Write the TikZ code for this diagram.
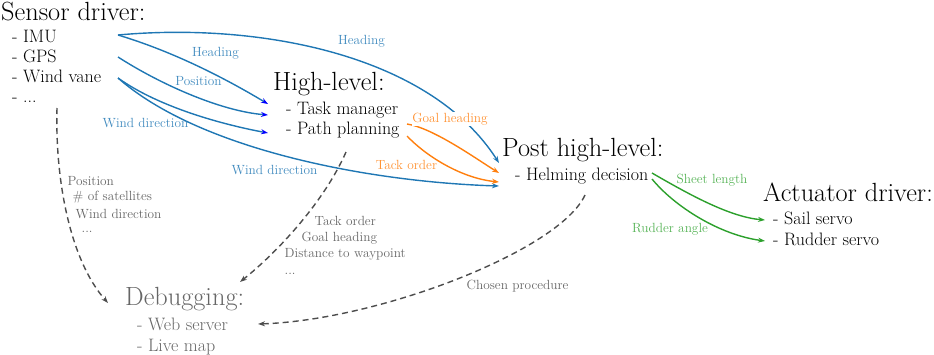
\documentclass[tikz,border=0pt]{standalone}
\usepackage{fontspec}
\usetikzlibrary{arrows.meta}
\definecolor{cblue}{HTML}{1F77B4}
\definecolor{corange}{HTML}{FF7F0E}
\definecolor{cgreen}{HTML}{2CA02C}
\definecolor{dgray}{HTML}{4D4D4D}
\definecolor{tgray}{HTML}{666666}
\tikzset{
  titlebox/.style={anchor=base west,inner sep=0pt,font=\fontsize{26.3}{30}\selectfont},
  itembox/.style={anchor=base west,inner sep=0pt,font=\fontsize{18}{21}\selectfont},
  lbl/.style={inner sep=0.5pt,font=\fontsize{13.3}{16}\selectfont},
  clbl/.style={lbl},
  glbl/.style={lbl,anchor=west,text=tgray},
  tip/.style={-{Stealth[length=7pt,width=5pt]}},
  bluearr/.style={tip,draw=cblue,line width=1.4pt},
  bluearrB/.style={-{Stealth[length=7pt,width=5pt,fill=blue,color=blue]},draw=cblue,line width=1.4pt},
  orangearr/.style={tip,draw=corange,line width=1.4pt},
  greenarr/.style={tip,draw=cgreen,line width=1.4pt},
  dasharr/.style={tip,draw=dgray,line width=1.4pt,dash pattern=on 6pt off 4pt},
}
\begin{document}
\begin{tikzpicture}[x=1pt,y=-1pt]
\useasboundingbox (0,0) rectangle (934,354);
% Sensor driver
\node[titlebox] (sensor) at (1,20.5) {Sensor driver:};
\node[itembox] (imu) at (12,42) {- IMU};
\node[itembox] (gps) at (12,62) {- GPS};
\node[itembox] (wvane) at (12,82) {- Wind vane};
\node[itembox] (sdots) at (12,102) {- ...};
% High-level
\node[titlebox] (high) at (273,90) {High-level:};
\node[itembox] (task) at (286,114) {- Task manager};
\node[itembox] (path) at (286,134) {- Path planning};
% Post high-level
\node[titlebox] (post) at (502,156) {Post high-level:};
\node[itembox] (helm) at (515,180) {- Helming decision};
% Actuator driver
\node[titlebox] (act) at (763,201) {Actuator driver:};
\node[itembox] (sail) at (773,224) {- Sail servo};
\node[itembox] (rudder) at (773,245) {- Rudder servo};
% Debugging
\node[titlebox,text=tgray] (debug) at (125,305) {Debugging:};
\node[itembox,text=tgray] (web) at (137,330) {- Web server};
\node[itembox,text=tgray] (live) at (137,351) {- Live map};

% ports
\coordinate (imuO) at (118,35);
\coordinate (gpsO) at (118,57);
\coordinate (windO) at (118,78);
\coordinate (sdotsO) at (57,108);
\coordinate (taskI) at (268,104);
\coordinate (taskI2) at (268,115);
\coordinate (pathI) at (268,133);
\coordinate (pathO1) at (407,124);
\coordinate (pathO2) at (407,136);
\coordinate (pathD) at (346,152);
\coordinate (postI1) at (499,163);
\coordinate (postI2) at (499,173);
\coordinate (postI3) at (499,182);
\coordinate (postI4) at (499,186);
\coordinate (helmO1) at (652,173);
\coordinate (helmO2) at (652,179);
\coordinate (helmD) at (585,195);
\coordinate (sailI) at (765,220);
\coordinate (rudderI) at (765,241);
\coordinate (debugI1) at (108,303);
\coordinate (debugI2) at (240,282);
\coordinate (webI) at (258,324);

% blue arrows
\draw[bluearrB] (imuO) .. controls (168,50) and (218,74) .. (taskI);
\draw[bluearr] (imuO) .. controls (260,22) and (430,55) .. (postI1);
\draw[bluearrB] (gpsO) .. controls (160,84) and (220,111) .. (taskI2);
\draw[bluearrB] (windO) .. controls (160,108) and (225,125) .. (pathI);
\draw[bluearr] (windO) .. controls (200,150) and (370,182) .. (postI4);
% orange arrows
\draw[orangearr] (pathO1) .. controls (433,128) and (475,158) .. (postI2);
\draw[orangearr] (pathO2) .. controls (425,155) and (460,178) .. (postI3);
% green arrows
\draw[greenarr] (helmO1) .. controls (690,195) and (730,217) .. (sailI);
\draw[greenarr] (helmO2) .. controls (675,207) and (720,235) .. (rudderI);
% dashed arrows
\draw[dasharr] (sdotsO) .. controls (55,180) and (70,260) .. (debugI1);
\draw[dasharr] (pathD) .. controls (325,200) and (280,250) .. (debugI2);
\draw[dasharr] (helmD) .. controls (560,250) and (380,320) .. (webI);

% labels
\node[clbl,text=cblue!85!white] (l1) at (215.5,53) {Heading};
\node[clbl,text=cblue!85!white] (l2) at (361.5,41) {Heading};
\node[clbl,text=cblue!85!white] (l3) at (198.5,81) {Position};
\node[clbl,text=cblue!85!white] (l4) at (145.5,123) {Wind direction};
\node[clbl,text=cblue!85!white] (l5) at (274.5,170) {Wind direction};
\node[clbl,fill=white,text=corange!85!white] (l6) at (450,119) {Goal heading};
\node[clbl,text=corange!85!white] (l7) at (406.5,165) {Tack order};
\node[clbl,text=cgreen!80!white] (l8) at (712,180) {Sheet length};
\node[clbl,text=cgreen!80!white] (l9) at (670,229) {Rudder angle};
\node[glbl] (g1) at (67,181) {Position};
\node[glbl] (g2) at (72,197.5) {\# of satellites};
\node[glbl] (g3) at (75,214) {Wind direction};
\node[glbl] (g4) at (81,232) {...};
\node[glbl] (g5) at (314,221) {Tack order};
\node[glbl] (g6) at (301,238) {Goal heading};
\node[glbl] (g7) at (284,254) {Distance to waypoint};
\node[glbl] (g8) at (284,274) {...};
\node[glbl] (g9) at (466,286) {Chosen procedure};
\end{tikzpicture}
\end{document}
